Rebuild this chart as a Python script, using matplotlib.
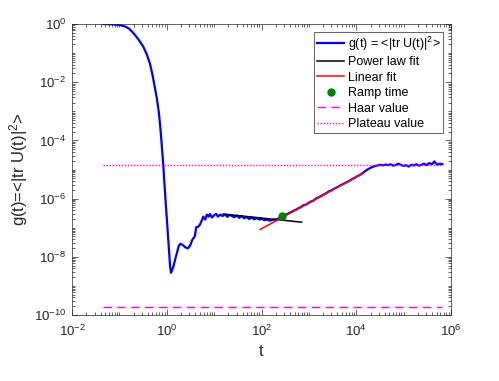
import numpy as np
import matplotlib
matplotlib.use('Agg')
import matplotlib.pyplot as plt
from matplotlib.ticker import NullFormatter

plt.rcParams['font.family'] = ['Liberation Sans', 'DejaVu Sans']
plt.rcParams['mathtext.default'] = 'regular'

# g(t) (t, log10 g)
t_vals = [0.046, 0.07, 0.1, 0.13, 0.16, 0.2, 0.25, 0.32, 0.38, 0.44, 0.5, 0.55, 0.61, 0.67,
          0.72, 0.78, 0.85, 0.92, 1.0, 1.07, 1.12, 1.18, 1.23, 1.3, 1.4, 1.5, 1.65, 1.8,
          1.95, 2.2, 2.5, 2.8, 3.1, 3.5, 3.9, 4.2, 4.6, 5.0, 5.5, 5.9, 6.5, 7.0, 7.6, 8.2,
          9, 10, 11, 12, 13.5, 15, 17, 19, 21, 24, 27, 30, 34, 38, 43, 48, 55, 62, 70, 80,
          90, 100, 115, 130, 150, 170, 195, 220, 250, 280, 320, 360, 410, 460, 520, 590,
          670, 760, 860, 980, 1100, 1250, 1420, 1600, 1820, 2060, 2340, 2650, 3000, 3400,
          3850, 4370, 4950, 5600, 6350, 7200, 8150, 9250, 10500, 11900, 13500, 15300,
          17300, 19600, 22200, 25200, 28500, 32300, 36600, 41500, 47000, 53300, 60400,
          68500, 77600, 88000, 99700, 113000, 128000, 145000, 164000, 186000, 211000,
          239000, 271000, 307000, 348000, 394000, 447000, 507000, 575000, 660000]
log_g = [0.0, -0.01, -0.035, -0.08, -0.16, -0.32, -0.52, -0.78, -1.05, -1.35, -1.75, -2.1,
         -2.5, -2.95, -3.42, -4.1, -4.92, -5.8, -6.64, -7.35, -7.8, -8.35, -8.55, -8.45,
         -8.3, -8.1, -7.85, -7.62, -7.55, -7.6, -7.68, -7.71, -7.62, -7.4, -7.3, -6.98,
         -6.97, -6.9, -6.75, -6.62, -6.72, -6.55, -6.62, -6.53, -6.65, -6.57, -6.52, -6.62,
         -6.55, -6.6, -6.54, -6.63, -6.56, -6.6, -6.64, -6.58, -6.66, -6.6, -6.68, -6.63,
         -6.7, -6.65, -6.71, -6.67, -6.72, -6.69, -6.74, -6.72, -6.76, -6.73, -6.72, -6.7,
         -6.65, -6.6, -6.56, -6.52, -6.47, -6.43, -6.39, -6.34, -6.3, -6.23, -6.21, -6.15,
         -6.1, -6.07, -5.99, -5.96, -5.91, -5.86, -5.81, -5.75, -5.72, -5.66, -5.62, -5.57,
         -5.52, -5.48, -5.43, -5.39, -5.33, -5.29, -5.23, -5.19, -5.13, -5.06, -5.0, -4.95,
         -4.91, -4.88, -4.86, -4.84, -4.86, -4.83, -4.85, -4.82, -4.87, -4.84, -4.8, -4.84,
         -4.88, -4.85, -4.9, -4.84, -4.86, -4.82, -4.87, -4.84, -4.8, -4.85, -4.78, -4.82,
         -4.72, -4.84, -4.8, -4.82]

# fits and reference levels
power_t = [15.5, 700]
power_g = [2.95e-7, 1.55e-7]
linear_t = [94, 14000]
linear_g = [8.7e-8, 7.4e-6]
ramp_t = [277]
ramp_g = [2.5e-7]
haar_value = 1.93e-10
plateau_value = 1.4e-5

g_vals = 10.0 ** np.array(log_g)
t_range = [t_vals[0], t_vals[-1]]

fig = plt.figure(figsize=(4.99, 3.81), dpi=100)
ax = fig.add_axes([0.1443, 0.1732, 0.7595, 0.7638])

ax.plot(t_vals, g_vals, color='b', lw=1.6, label=r'g(t) = <|tr U(t)|$^2$>')
ax.plot(power_t, power_g, color='k', lw=1.1, label='Power law fit')
ax.plot(linear_t, linear_g, color='r', lw=1.1, label='Linear fit')
ax.plot(ramp_t, ramp_g, 'o', color='#008000', ms=5, label='Ramp time')
ax.plot(t_range, [haar_value] * 2, color='#ff00ff', lw=1, linestyle=(0, (6, 4)),
        label='Haar value')
ax.plot(t_range, [plateau_value] * 2, color='#ff00ff', lw=1, linestyle=(0, (1, 1.2)),
        label='Plateau value')

ax.set_xscale('log')
ax.set_yscale('log')
ax.set_xlim(1e-2, 1e6)
ax.set_ylim(1e-10, 1e0)

ax.set_xticks([1e-2, 1e0, 1e2, 1e4, 1e6])
ax.set_yticks([1e-10, 1e-8, 1e-6, 1e-4, 1e-2, 1e0])
xminor = [m * 10.0 ** k for k in range(-2, 6) for m in range(2, 10)] + [10.0 ** k for k in range(-1, 6, 2)]
yminor = [m * 10.0 ** k for k in range(-10, 0) for m in range(2, 10)] + [10.0 ** k for k in range(-9, 0, 2)]
ax.set_xticks(xminor, minor=True)
ax.set_yticks(yminor, minor=True)
ax.xaxis.set_minor_formatter(NullFormatter())
ax.yaxis.set_minor_formatter(NullFormatter())

ax.tick_params(which='both', direction='in', top=True, right=True, colors='0.15',
               labelsize=9.5, width=0.5)
ax.tick_params(which='major', length=4)
ax.tick_params(which='minor', length=2)
ax.tick_params(axis='x', which='major', pad=6)
ax.tick_params(axis='y', which='major', pad=4)
for s in ax.spines.values():
    s.set_linewidth(0.5)
    s.set_color('0.15')

ax.set_xlabel('t', fontsize=12, color='0.15', labelpad=4)
ax.set_ylabel(r'g(t)=<|tr U(t)|$^2$>', fontsize=12, color='0.15', labelpad=3)

leg = ax.legend(loc='upper right', fontsize=9, fancybox=False, edgecolor='0.15',
                framealpha=1, labelspacing=0.28, handlelength=2.2, handletextpad=0.25,
                borderpad=0.25, borderaxespad=0.6)
leg.get_frame().set_linewidth(0.5)

fig.savefig('out.png', dpi=100)
